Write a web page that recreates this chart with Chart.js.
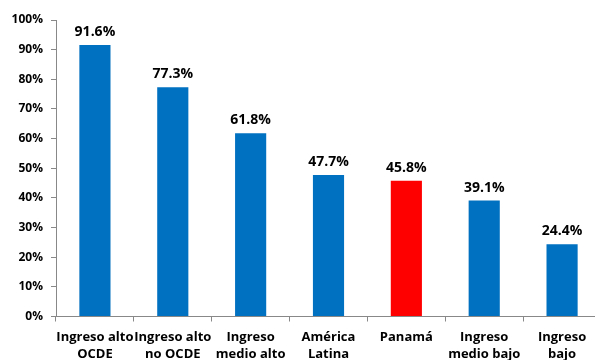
<!DOCTYPE html>
<html>
<head>
<meta charset="utf-8">
<style>
  html, body { margin: 0; padding: 0; background: #fff; overflow: hidden; }
  #wrap { width: 604px; height: 370px; position: relative; }
</style>
<script src="https://cdn.jsdelivr.net/npm/chart.js@4.4.1/dist/chart.umd.min.js"></script>
</head>
<body>
<div id="wrap"><canvas id="c"></canvas></div>
<script>
// Categories (two-line labels) and values in percent
const categories = [
  ["Ingreso alto", "OCDE"],
  ["Ingreso alto", "no OCDE"],
  ["Ingreso", "medio alto"],
  ["América", "Latina"],
  ["Panamá"],
  ["Ingreso", "medio bajo"],
  ["Ingreso", "bajo"]
];
const values = [91.6, 77.3, 61.8, 47.7, 45.8, 39.1, 24.4];
const highlight = "Panamá";

const BLUE = "#0070C0";
const RED = "#FF0000";
const FONT = "'Open Sans', 'Liberation Sans', sans-serif";

const barColors = categories.map(c => c.join(" ") === highlight ? RED : BLUE);

// Value labels above each bar
const valueLabels = {
  id: "valueLabels",
  afterDatasetsDraw(chart) {
    const ctx = chart.ctx;
    const meta = chart.getDatasetMeta(0);
    ctx.save();
    ctx.font = "bold 14px " + FONT;
    ctx.fillStyle = "#000";
    ctx.textAlign = "center";
    ctx.textBaseline = "bottom";
    meta.data.forEach((bar, i) => {
      ctx.fillText(values[i].toFixed(1) + "%", bar.x, bar.y - 6);
    });
    ctx.restore();
  }
};

new Chart(document.getElementById("c"), {
  type: "bar",
  data: {
    labels: categories,
    datasets: [{
      data: values,
      backgroundColor: barColors,
      borderWidth: 0,
      barPercentage: 0.8,
      categoryPercentage: 0.5
    }]
  },
  options: {
    responsive: true,
    maintainAspectRatio: false,
    animation: false,
    devicePixelRatio: 1,
    layout: { padding: { top: 20, right: 3, left: 0, bottom: 0 } },
    plugins: {
      legend: { display: false },
      tooltip: { enabled: false }
    },
    scales: {
      y: {
        min: 0,
        max: 100,
        ticks: {
          stepSize: 10,
          color: "#000",
          font: { family: FONT, size: 12, weight: "bold" },
          padding: 8,
          callback: v => v + "%"
        },
        grid: {
          drawOnChartArea: false,
          drawTicks: true,
          tickLength: 5,
          color: "#888"
        },
        border: { color: "#888", width: 1 },
        afterFit(scale) { scale.width = 56; }
      },
      x: {
        ticks: {
          color: "#000",
          font: { family: FONT, size: 13, weight: "bold", lineHeight: 1.25 },
          padding: 8,
          maxRotation: 0,
          autoSkip: false
        },
        grid: {
          offset: true,
          drawOnChartArea: false,
          drawTicks: true,
          tickLength: 5,
          color: "#888"
        },
        border: { color: "#888", width: 1 }
      }
    }
  },
  plugins: [valueLabels]
});
</script>
</body>
</html>
